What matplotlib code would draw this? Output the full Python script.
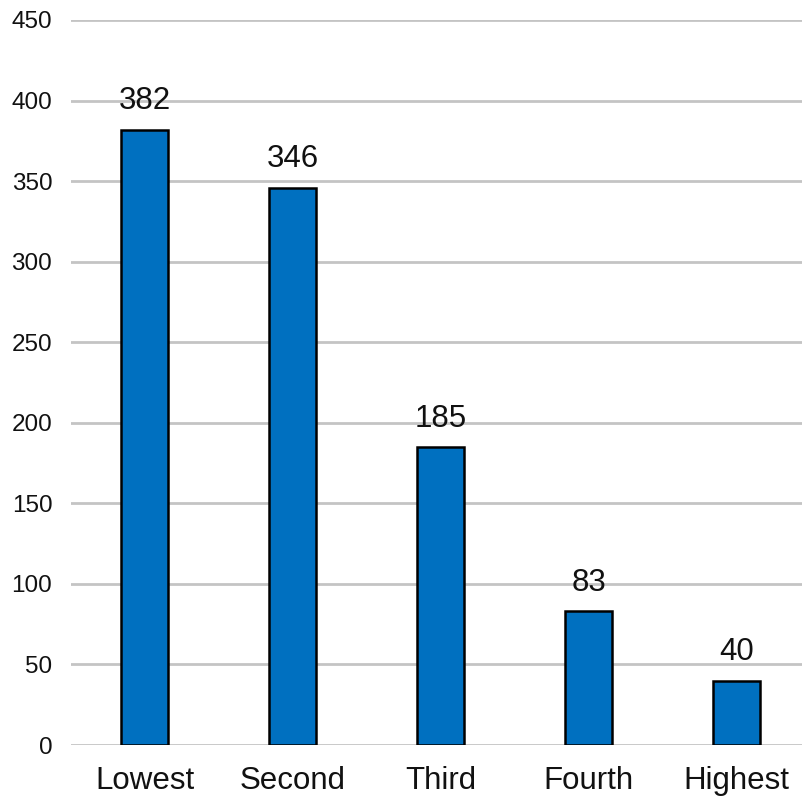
import matplotlib
matplotlib.use("Agg")
import matplotlib.pyplot as plt

categories = ["Lowest", "Second", "Third", "Fourth", "Highest"]
counts = [382, 346, 185, 83, 40]
yticks = [0, 50, 100, 150, 200, 250, 300, 350, 400, 450]

plt.rcParams["font.family"] = ["Liberation Sans", "DejaVu Sans"]

fig = plt.figure(figsize=(8.03, 8.0), dpi=100)
ax = fig.add_axes([71 / 803, 55 / 800, 732 / 803, 725 / 800])

x = range(len(categories))
bars = ax.bar(x, counts, width=0.318, color="#0070C0",
              edgecolor="black", linewidth=1.8, zorder=3)
ax.bar_label(bars, labels=[str(c) for c in counts], padding=9.5,
             fontsize=22.5, color="#111111")

ax.set_xlim(-0.5, 4.45)
ax.set_ylim(0, 450)
ax.set_yticks(yticks)
ax.set_xticks(list(x))
ax.set_xticklabels(categories)

ax.yaxis.grid(True, color="#c4c4c4", linewidth=2, zorder=0)
ax.set_axisbelow(True)
for s in ax.spines.values():
    s.set_visible(False)

ax.tick_params(axis="y", length=0, pad=13.5, labelsize=17.5, labelcolor="#111111")
ax.tick_params(axis="x", length=0, pad=15, labelsize=22.5, labelcolor="#111111")

fig.savefig("out.png", dpi=100, facecolor="white")
